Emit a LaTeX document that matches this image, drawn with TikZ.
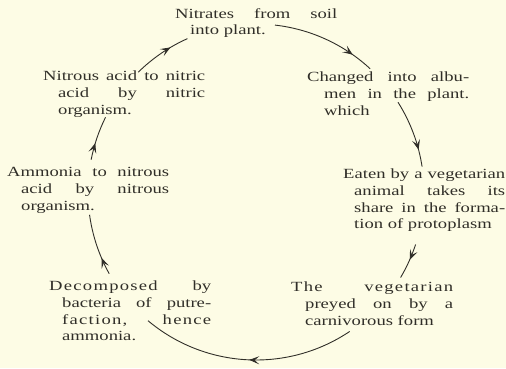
\documentclass[tikz,border=0pt]{standalone}
\usepackage{fontspec}
\setmainfont{Liberation Serif}[FakeStretch=1.33]
\usetikzlibrary{arrows.meta,decorations.markings,calc}
\definecolor{bg}{RGB}{253,252,229}
\definecolor{ink}{RGB}{48,46,40}
\newcommand{\hangtext}[2]{\noindent\hbadness=10000\tolerance=10000\parshape 2 0pt 162pt #1pt \dimexpr162pt-#1pt\relax\rule{0pt}{10pt}#2\par}
\newcommand{\spaced}[1]{{\addfontfeature{LetterSpace=9}#1}}
\tikzset{
  txt/.style={anchor=north west, inner sep=0pt, text width=162pt, text=ink,
    align=justify, font=\fontsize{14}{16.7}\selectfont},
  cyc/.style={draw=ink, line width=0.9pt, postaction={decorate},
    decoration={markings, mark=at position #1 with {\arrow{Stealth[length=10pt,width=8pt,inset=4.5pt]}}}},
}
\begin{document}
\begin{tikzpicture}[x=1pt,y=-1pt]
\fill[bg] (0,0) rectangle (506,368);
\useasboundingbox (0,0) rectangle (506,368);

\node[txt] (n1) at (175,8) {\hangtext{15}{Nitrates from soil\linebreak into plant.}};
\node[txt] (n2) at (307,71.5) {\hangtext{17}{Changed into albu-\linebreak men in the plant.\linebreak which}};
\node[txt] (n3) at (343,168.5) {\hangtext{11}{Eaten by a vegetarian\linebreak animal takes its\linebreak share in the forma-\linebreak tion of protoplasm}};
\node[txt] (n4) at (291,281.5) {\hangtext{14}{\spaced{The} \spaced{vegetarian}\linebreak preyed on by a\linebreak carnivorous form}};
\node[txt] (n5) at (49,280.5) {\hangtext{13}{\spaced{Decomposed} by\linebreak bacteria of putre-\linebreak \spaced{faction,} \spaced{hence}\linebreak ammonia.}};
\node[txt] (n6) at (7,166.5) {\hangtext{14}{Ammonia to nitrous\linebreak acid by nitrous\linebreak organism.}};
\node[txt] (n7) at (43,70.5) {\hangtext{15}{Nitrous acid to nitric\linebreak acid by nitric\linebreak organism.}};

\coordinate (O) at (256,192);
\coordinate (a1) at ($(O)+(-83.5:168)$);
\coordinate (a2) at ($(O)+(-32.3:168)$);
\coordinate (a3) at ($(O)+(18.2:168)$);
\coordinate (a4) at ($(O)+(56.1:168)$);
\coordinate (a5) at ($(O)+(150.9:168)$);
\coordinate (a6) at ($(O)+(191.1:168)$);
\coordinate (a7) at ($(O)+(225.5:168)$);

\draw[cyc=0.79] (a1) arc[start angle=-83.5, end angle=-47.2, radius=168];
\draw[cyc=0.75] (a2) arc[start angle=-32.3, end angle=-8.7, radius=168];
\draw[cyc=0.45] (a3) arc[start angle=18.2, end angle=30.6, radius=168];
\draw[cyc=0.49] (a4) arc[start angle=56.1, end angle=130, radius=168];
\draw[cyc=0.28] (a5) arc[start angle=150.9, end angle=172.2, radius=168];
\draw[cyc=0.38] (a6) arc[start angle=191.1, end angle=206.4, radius=168];
\draw[cyc=0.68] (a7) arc[start angle=225.5, end angle=245.9, radius=168];
\end{tikzpicture}
\end{document}
